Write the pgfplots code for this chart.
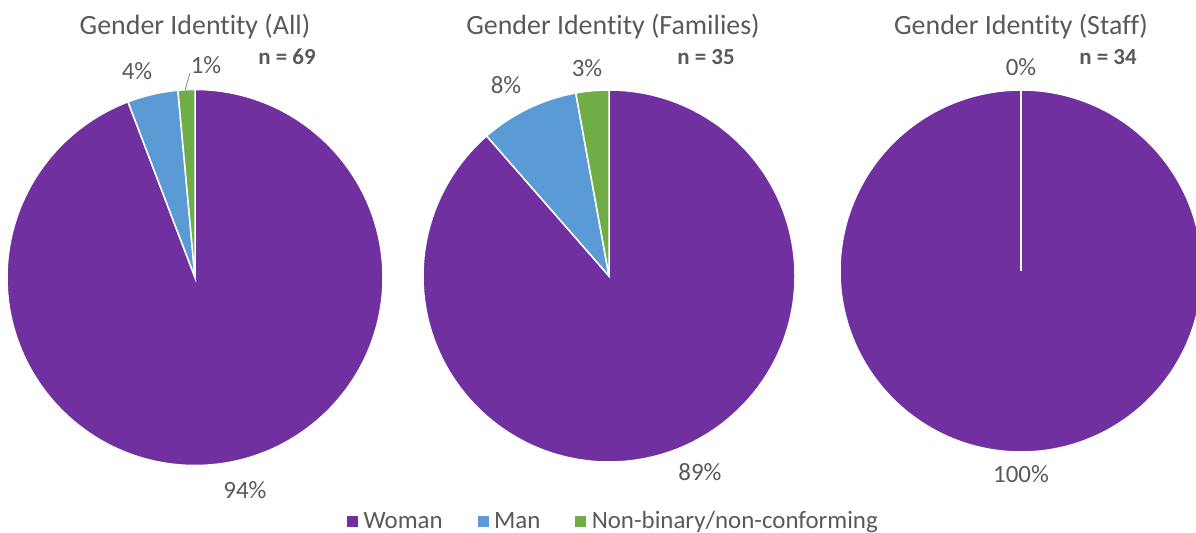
\documentclass[border=0pt]{standalone}
\usepackage{pgfplots}
\usepackage{pgfplotstable}
\pgfplotsset{compat=1.18}
\usepackage{fontspec}
\setmainfont{Carlito}[Ligatures=NoCommon]
\definecolor{woman}{HTML}{7030A0}
\definecolor{man}{HTML}{5B9BD5}
\definecolor{nb}{HTML}{70AD47}
\definecolor{txt}{HTML}{595959}

% percentages: Woman, Man, Non-binary
\pgfplotstableread{
pct
94.20
4.35
1.45
}\tabAll
\pgfplotstableread{
pct
88.57
8.57
2.86
}\tabFam
\pgfplotstableread{
pct
100
0
0
}\tabStaff

\newcommand\getangles[2]{% table, prefix
  \pgfplotstablegetelem{0}{pct}\of#1\pgfmathsetmacro\tmpw{\pgfplotsretval}%
  \pgfplotstablegetelem{1}{pct}\of#1\pgfmathsetmacro\tmpm{\pgfplotsretval}%
  \pgfmathsetmacro\tmpa{90-3.6*\tmpw}%
  \pgfmathsetmacro\tmpb{90-3.6*(\tmpw+\tmpm)}%
  \expandafter\edef\csname #2a\endcsname{\tmpa}%
  \expandafter\edef\csname #2b\endcsname{\tmpb}%
}
\getangles\tabAll{pA}
\getangles\tabFam{pF}
\getangles\tabStaff{pS}

\newcommand\pie[5]{% cx cy r angleA angleB
  \fill[woman,draw=white,line width=1.5bp] (axis cs:#1,#2) -- ++(90:#3bp) arc[start angle=90,end angle=#4,radius=#3bp] -- cycle;
  \fill[man,draw=white,line width=1.5bp] (axis cs:#1,#2) -- ++(#4:#3bp) arc[start angle=#4,end angle=#5,radius=#3bp] -- cycle;
  \fill[nb,draw=white,line width=1.5bp] (axis cs:#1,#2) -- ++(#5:#3bp) arc[start angle=#5,end angle=-270,radius=#3bp] -- cycle;
}

\begin{document}
\begin{tikzpicture}
\begin{axis}[
  width=1196bp, height=533bp, scale only axis,
  xmin=0, xmax=1196, ymin=0, ymax=533,
  hide axis, clip=true,
  legend style={at={(axis cs:613,12)}, anchor=center, draw=none, fill=none,
    legend columns=-1, font=\fontsize{25}{28}\selectfont\color{txt},
    inner sep=0pt,
    /tikz/every odd column/.append style={column sep=3bp},
    /tikz/every even column/.append style={column sep=32bp}},
  legend image code/.code={\fill[#1] (0bp,-6bp) rectangle (12bp,6bp);},
]
\addlegendimage{woman,draw=white}
\addlegendentry{Woman}
\addlegendimage{man,draw=white}
\addlegendentry{Man}
\addlegendimage{nb,draw=white}
\addlegendentry{Non-binary/non-conforming}

\pie{195}{255.5}{188}{\pAa}{\pAb}
\pie{609}{257}{186}{\pFa}{\pFb}
\pie{1021}{262}{181}{\pSa}{\pSb}

\begin{scope}[every node/.style={text=txt, inner sep=0pt}]
\node[font=\fontsize{28}{32}\selectfont] at (axis cs:195,506) {Gender Identity (All)};
\node[font=\fontsize{28}{32}\selectfont] at (axis cs:613,506) {Gender Identity (Families)};
\node[font=\fontsize{28}{32}\selectfont] at (axis cs:1021,506) {Gender Identity (Staff)};
\node[font=\fontsize{23}{26}\selectfont\bfseries] at (axis cs:287,476) {n = 69};
\node[font=\fontsize{23}{26}\selectfont\bfseries] at (axis cs:706,476) {n = 35};
\node[font=\fontsize{23}{26}\selectfont\bfseries] at (axis cs:1108,476) {n = 34};
\node[font=\fontsize{25}{28}\selectfont] at (axis cs:137,462) {4\%};
\node[font=\fontsize{25}{28}\selectfont] at (axis cs:206,468) {1\%};
\node[font=\fontsize{25}{28}\selectfont] at (axis cs:245,43) {94\%};
\node[font=\fontsize{25}{28}\selectfont] at (axis cs:506,448) {8\%};
\node[font=\fontsize{25}{28}\selectfont] at (axis cs:587,465) {3\%};
\node[font=\fontsize{25}{28}\selectfont] at (axis cs:700,61) {89\%};
\node[font=\fontsize{25}{28}\selectfont] at (axis cs:1021,466) {0\%};
\node[font=\fontsize{25}{28}\selectfont] at (axis cs:1021,59) {100\%};
\end{scope}
\draw[txt!70, line width=0.8bp] (axis cs:185,443) -- (axis cs:190,460);
\end{axis}
\pgfresetboundingbox
\path[use as bounding box] (current axis.south west) rectangle (current axis.north east);
\end{tikzpicture}
\end{document}
